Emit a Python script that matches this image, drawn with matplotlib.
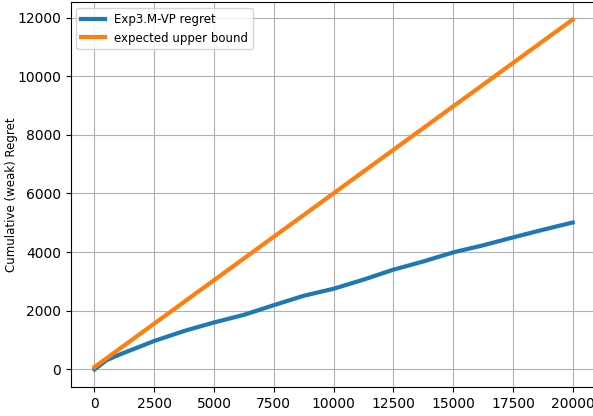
import matplotlib
matplotlib.use("Agg")
import matplotlib.pyplot as plt

# rounds and cumulative regret
rounds = [0, 500, 1000, 1250, 2500, 3750, 5000, 6250, 7500, 8750, 10000,
          11250, 12500, 13750, 15000, 16250, 17500, 18750, 20000]
regret = [0, 310, 490, 570, 970, 1310, 1600, 1860, 2190, 2510, 2750,
          3060, 3400, 3680, 3990, 4230, 4500, 4760, 5010]
bound_rounds = [0, 20000]
bound = [80, 11930]

fig = plt.figure(figsize=(5.93, 4.16), dpi=100)
ax = fig.add_axes([0.119, 0.07, 0.887, 0.925])
ax.plot(rounds, regret, linewidth=3, label="Exp3.M-VP regret")
ax.plot(bound_rounds, bound, linewidth=3, label="expected upper bound")
ax.set_ylabel("Cumulative (weak) Regret", fontsize=8.5, labelpad=-1)
ax.set_xticks([0, 2500, 5000, 7500, 10000, 12500, 15000, 17500, 20000])
ax.grid(True)
ax.legend(loc="upper left", fontsize=8.5)
fig.savefig("out.png", dpi=100)
